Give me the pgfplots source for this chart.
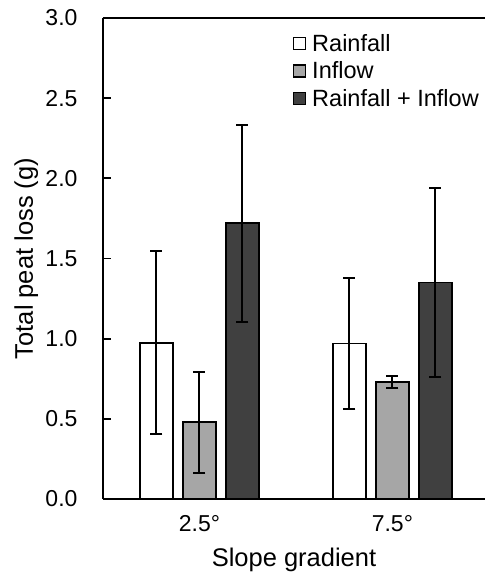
\documentclass[border=0pt]{standalone}
\usepackage{fontspec}
\setmainfont{Liberation Sans}
\usepackage{pgfplots}
\pgfplotsset{compat=1.18}
\usetikzlibrary{calc}

\definecolor{inflowgray}{HTML}{A6A6A6}
\definecolor{bothgray}{HTML}{404040}

% mean, error plus, error minus
\pgfplotstableread{
x  y     ep    em
0  0.975 0.57  0.57
1  0.97  0.41  0.41
}\rain
\pgfplotstableread{
x  y     ep    em
0  0.48  0.315 0.315
1  0.73  0.04  0.04
}\inflow
\pgfplotstableread{
x  y     ep    em
0  1.72  0.615 0.615
1  1.35  0.59  0.59
}\both

\begin{document}
\begin{tikzpicture}
\begin{axis}[
    scale only axis,
    width=382pt, height=481pt,
    xmin=-0.5, xmax=1.48,
    ymin=0, ymax=3,
    ybar=10pt, bar width=33pt,
    separate axis lines,
    axis x line*=box, axis y line*=left,
    axis line style={line width=1.8pt, -},
    xtick={0,1}, xticklabels={2.5°,7.5°},
    xtick style={draw=none},
    ytick={0,0.5,...,3},
    ytick pos=left, tick align=inside,
    major tick length=8pt,
    ytick style={line width=1.8pt, black},
    yticklabel style={/pgf/number format/.cd, fixed, fixed zerofill, precision=1},
    /pgf/number format/assume math mode=true,
    tick label style={font=\fontsize{23}{27}\selectfont},
    xticklabel shift=13pt,
    yticklabel shift=22pt,
    xlabel={Slope gradient},
    ylabel={Total peat loss (g)},
    every axis x label/.style={at={(axis description cs:0.5,-0.127)}, anchor=center,
        font=\fontsize{25.5}{30}\selectfont},
    every axis y label/.style={at={(axis description cs:-0.201,0.5)}, rotate=90, anchor=center,
        font=\fontsize{25.5}{30}\selectfont},
    legend style={draw=none, fill=none, at={(0.488,0.975)}, anchor=north west,
        font=\fontsize{23.5}{27}\selectfont, row sep=5pt,
        /tikz/every odd column/.style={column sep=4pt}},
    legend image code/.code={\draw[#1, line width=1.6pt] (0pt,-6pt) rectangle (12pt,6pt);},
    legend cell align=left,
    every axis plot/.append style={draw=black, line width=1.8pt},
]
\addplot[fill=white, error bars/.cd, y dir=both, y explicit,
    error bar style={line width=2pt, black},
    error mark options={rotate=90, mark size=6pt, line width=2pt, black}]
    table[x=x, y=y, y error plus=ep, y error minus=em] {\rain};
\addplot[fill=inflowgray, error bars/.cd, y dir=both, y explicit,
    error bar style={line width=2pt, black},
    error mark options={rotate=90, mark size=6pt, line width=2pt, black}]
    table[x=x, y=y, y error plus=ep, y error minus=em] {\inflow};
\addplot[fill=bothgray, error bars/.cd, y dir=both, y explicit,
    error bar style={line width=2pt, black},
    error mark options={rotate=90, mark size=6pt, line width=2pt, black}]
    table[x=x, y=y, y error plus=ep, y error minus=em] {\both};
\legend{Rainfall, Inflow, Rainfall + Inflow}
\coordinate (sw) at (rel axis cs:0,0);
\coordinate (ne) at (rel axis cs:1,1);
\end{axis}
\pgfresetboundingbox
\path ($(sw)+(-103pt,-86pt)$) rectangle ($(ne)+(0pt,18pt)$);
\end{tikzpicture}
\end{document}
